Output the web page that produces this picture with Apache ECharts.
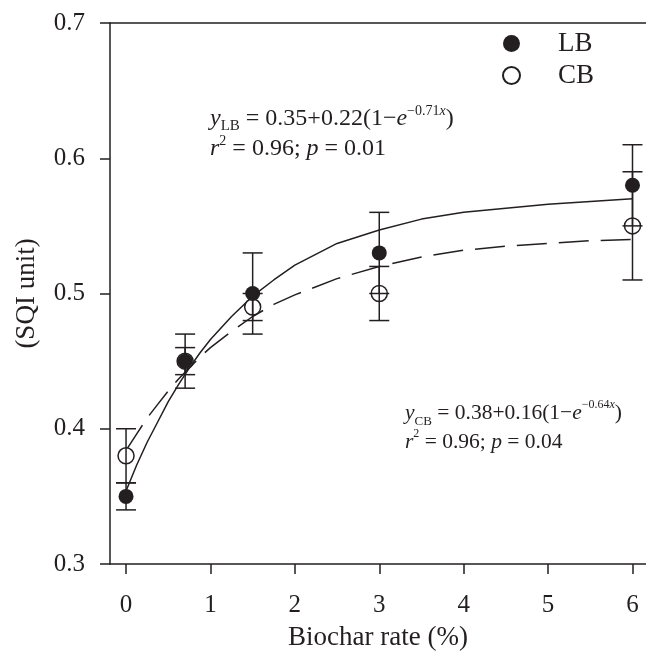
<!DOCTYPE html>
<html><head><meta charset="utf-8">
<script src="https://cdn.jsdelivr.net/npm/echarts@6/dist/echarts.min.js"></script>
<style>html,body{margin:0;padding:0;background:#fff}#c{width:646px;height:652px}</style>
</head><body><div id="c"></div>
<script>
// ---- data ----
const rates = [0, 0.7, 1.5, 3, 6];
const lbMean = [0.35, 0.45, 0.50, 0.53, 0.58];
const lbErr  = [0.01, 0.02, 0.03, 0.03, 0.03];
const cbMean = [0.38, 0.45, 0.49, 0.50, 0.55];
const cbErr  = [0.02, 0.01, 0.01, 0.02, 0.04];
// fitted curves as traced on the picture
const fitX  = [0, 0.125, 0.25, 0.375, 0.5, 0.625, 0.75, 0.875, 1, 1.25, 1.5, 1.75, 2, 2.5, 3, 3.5, 4, 4.5, 5, 5.5, 6];
const lbFit = [0.354, 0.373, 0.390, 0.405, 0.420, 0.433, 0.445, 0.456, 0.466, 0.483, 0.498, 0.510, 0.521, 0.537, 0.547, 0.555, 0.560, 0.563, 0.566, 0.568, 0.570];
const cbFit = [0.384, 0.396, 0.408, 0.418, 0.428, 0.437, 0.445, 0.453, 0.460, 0.472, 0.483, 0.492, 0.499, 0.511, 0.520, 0.527, 0.532, 0.535, 0.537, 0.539, 0.540];
const xTicks = [0, 1, 2, 3, 4, 5, 6];
const yTicks = [0.3, 0.4, 0.5, 0.6, 0.7];
const seriesNames = ['LB', 'CB'];
const xTitle = 'Biochar rate (%)';
const yTitle = '(SQI unit)';

const FONT = 'Liberation Serif';
const INK = '#231f20';

const pairs = (xs, ys) => xs.map((x, i) => [x, ys[i]]);
const errData = (xs, m, e) => xs.map((x, i) => [x, m[i] - e[i], m[i] + e[i]]);

function errRender(params, api) {
  const x = api.value(0), lo = api.value(1), hi = api.value(2);
  const pLo = api.coord([x, lo]), pHi = api.coord([x, hi]);
  const hw = 10;
  const st = { stroke: INK, lineWidth: 1.5 };
  return { type: 'group', children: [
    { type: 'line', shape: { x1: pLo[0], y1: pLo[1], x2: pHi[0], y2: pHi[1] }, style: st },
    { type: 'line', shape: { x1: pLo[0] - hw, y1: pLo[1], x2: pLo[0] + hw, y2: pLo[1] }, style: st },
    { type: 'line', shape: { x1: pHi[0] - hw, y1: pHi[1], x2: pHi[0] + hw, y2: pHi[1] }, style: st }
  ]};
}

function eqRich(fs, lh) {
  const sub = Math.round(fs * 0.62), sup = Math.round(fs * 0.58);
  return {
    n:   { fontFamily: FONT, fontSize: fs, lineHeight: lh, color: INK },
    i:   { fontFamily: FONT, fontSize: fs, lineHeight: lh, color: INK, fontStyle: 'italic' },
    sub: { fontFamily: FONT, fontSize: sub, lineHeight: sub, color: INK, verticalAlign: 'bottom' },
    sup: { fontFamily: FONT, fontSize: sup, lineHeight: sup, color: INK, verticalAlign: 'top' },
    supi:{ fontFamily: FONT, fontSize: sup, lineHeight: sup, color: INK, verticalAlign: 'top', fontStyle: 'italic' }
  };
}
const eqText = (sub, a, b, k, p) =>
  '{i|y}{sub|' + sub + '}{n| = ' + a + '+' + b + '(1−}{i|e}{sup|−' + k + '}{supi|x}{n|)}\n' +
  '{i|r}{sup|2}{n| = 0.96; }{i|p}{n| = ' + p + '}';

const chart = echarts.init(document.getElementById('c'), null, { renderer: 'canvas' });
chart.setOption({
  backgroundColor: '#fff',
  animation: false,
  textStyle: { fontFamily: FONT, color: INK },
  grid: { left: 110, right: 0, top: 23, bottom: 88, containLabel: false, outerBoundsMode: 'none' },
  legend: {
    data: seriesNames,
    orient: 'vertical', left: 502, top: 30, padding: 0,
    itemWidth: 17, itemHeight: 17, itemGap: 5,
    textStyle: { fontFamily: FONT, fontSize: 27, color: INK, padding: [0, 0, 0, 33] }
  },
  xAxis: [{
    type: 'value', min: -0.19, max: 6.16,
    name: xTitle, nameLocation: 'middle', nameGap: 60,
    nameTextStyle: { fontFamily: FONT, fontSize: 27, color: INK },
    axisLine: { onZero: false, lineStyle: { color: INK, width: 1.5 } },
    axisTick: { show: true, length: 10, customValues: xTicks, lineStyle: { color: INK, width: 1.5 } },
    axisLabel: { customValues: xTicks, margin: 29, fontFamily: FONT, fontSize: 25, color: INK },
    splitLine: { show: false }
  }, {
    type: 'value', position: 'top', min: -0.19, max: 6.16,
    axisLine: { onZero: false, lineStyle: { color: INK, width: 1.5 } },
    axisTick: { show: false }, axisLabel: { show: false }, splitLine: { show: false }
  }],
  yAxis: {
    type: 'value', min: 0.3, max: 0.7, interval: 0.1,
    name: yTitle, nameLocation: 'middle', nameGap: 70, nameRotate: 90,
    nameTextStyle: { fontFamily: FONT, fontSize: 27, color: INK },
    axisLine: { onZero: false, lineStyle: { color: INK, width: 1.5 } },
    axisTick: { show: true, length: 10, lineStyle: { color: INK, width: 1.5 } },
    axisLabel: { margin: 25, fontFamily: FONT, fontSize: 25, color: INK,
      formatter: v => v.toFixed(1) },
    splitLine: { show: false }
  },
  graphic: [
    { type: 'text', left: 210, top: 104, z: 100, style: {
      text: eqText('LB', '0.35', '0.22', '0.71', '0.01'),
      rich: eqRich(24, 30), fontFamily: FONT, fontSize: 24, fill: INK } },
    { type: 'text', left: 405, top: 399, z: 100, style: {
      text: eqText('CB', '0.38', '0.16', '0.64', '0.04'),
      rich: eqRich(21.5, 29), fontFamily: FONT, fontSize: 21.5, fill: INK } }
  ],
  series: [
    { name: 'LB fit', type: 'line', data: pairs(fitX, lbFit), smooth: false,
      showSymbol: false, symbol: 'none', z: 1, silent: true,
      lineStyle: { color: INK, width: 1.5, type: 'solid' } },
    { name: 'CB fit', type: 'line', data: pairs(fitX, cbFit), smooth: false,
      showSymbol: false, symbol: 'none', z: 1, silent: true,
      lineStyle: { color: INK, width: 1.5, type: [30, 12] } },
    { name: 'CB', type: 'scatter', data: pairs(rates, cbMean), symbol: 'circle', symbolSize: 16, z: 2,
      itemStyle: { color: '#fff', borderColor: INK, borderWidth: 1.5, opacity: 1 } },
    { name: 'LB', type: 'scatter', data: pairs(rates, lbMean), symbol: 'circle', symbolSize: 15, z: 3,
      itemStyle: { color: INK, borderColor: INK, borderWidth: 0, opacity: 1 } },
    { name: 'CB err', type: 'custom', data: errData(rates, cbMean, cbErr), renderItem: errRender, z: 4,
      encode: { x: 0, y: [1, 2] }, silent: true },
    { name: 'LB err', type: 'custom', data: errData(rates, lbMean, lbErr), renderItem: errRender, z: 4,
      encode: { x: 0, y: [1, 2] }, silent: true }
  ]
});
</script></body></html>
